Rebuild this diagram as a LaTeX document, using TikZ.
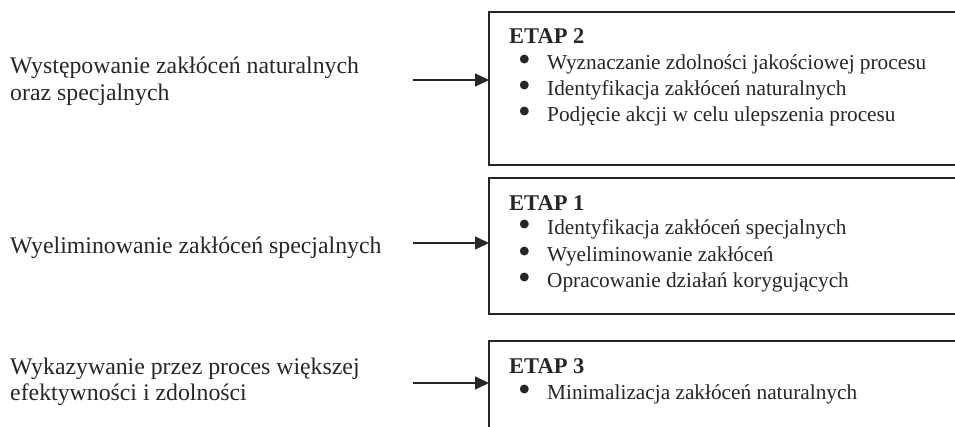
\documentclass[tikz,border=0pt]{standalone}
\usepackage{fontspec}
\setmainfont{Liberation Serif}
\usetikzlibrary{arrows.meta}
\newcommand{\bigdot}{\makebox[28pt][l]{\hspace{-1pt}\raisebox{-0.2ex}{\scalebox{1.7}{\textbullet}}}}
\begin{document}
\begin{tikzpicture}[x=1pt,y=-1pt,
  stagebox/.style={draw=none, rectangle, anchor=north west,
    minimum width=480pt, inner sep=0pt},
  frame/.style={draw=black!85, line width=1.8pt, line join=miter},
  lefttext/.style={anchor=base west, inner sep=0pt,
    font=\fontsize{23.8}{28}\selectfont, text=black!85},
  stagetitle/.style={anchor=base west, inner sep=0pt,
    font=\fontsize{22.5}{24}\selectfont\bfseries, text=black!85},
  stageitem/.style={anchor=base west, inner sep=0pt,
    font=\fontsize{21.3}{24}\selectfont, text=black!85},
  flow/.style={draw=black!85, line width=1.5pt, -{Triangle[length=14pt,width=13pt]}}
]
\useasboundingbox (0,0) rectangle (955,427);
\begin{scope}
\clip (0,0) rectangle (955,427);
% boxes (their right side lies beyond the picture's edge)
\node[stagebox, minimum height=153pt] (boxA) at (489,12) {};
\node[stagebox, minimum height=136pt] (boxB) at (489,178) {};
\node[stagebox, minimum height=110pt] (boxC) at (489,341) {};
\draw[frame] (boxA.north east) -- (boxA.north west) -- (boxA.south west) -- (boxA.south east);
\draw[frame] (boxB.north east) -- (boxB.north west) -- (boxB.south west) -- (boxB.south east);
\draw[frame] (boxC.north east) -- (boxC.north west) -- (boxC.south west);
\end{scope}

% box A
\node[stagetitle] (tA) at (509,44) {ETAP 2};
\node[stageitem] (a1) at (519,70) {\bigdot Wyznaczanie zdolności jakościowej procesu};
\node[stageitem] (a2) at (519,96) {\bigdot Identyfikacja zakłóceń naturalnych};
\node[stageitem] (a3) at (519,121.7) {\bigdot Podjęcie akcji w celu ulepszenia procesu};

% box B
\node[stagetitle] (tB) at (509,210.7) {ETAP 1};
\node[stageitem] (b1) at (519,235) {\bigdot Identyfikacja zakłóceń specjalnych};
\node[stageitem] (b2) at (519,261.5) {\bigdot Wyeliminowanie zakłóceń};
\node[stageitem] (b3) at (519,287.3) {\bigdot Opracowanie działań korygujących};

% box C
\node[stagetitle] (tC) at (509,373.3) {ETAP 3};
\node[stageitem] (c1) at (519,399.3) {\bigdot Minimalizacja zakłóceń naturalnych};

% left texts
\node[lefttext] (L1a) at (10,73.3) {Występowanie zakłóceń naturalnych};
\node[lefttext] (L1b) at (10,101) {oraz specjalnych};
\node[lefttext] (L2) at (10,253.3) {Wyeliminowanie zakłóceń specjalnych};
\node[lefttext] (L3a) at (10,374.3) {Wykazywanie przez proces większej};
\node[lefttext] (L3b) at (10,400.3) {efektywności i zdolności};

% arrows
\coordinate (s1) at (413,80);
\coordinate (s2) at (413,243);
\coordinate (s3) at (413,383);
\draw[flow] (s1) -- (s1 -| boxA.west);
\draw[flow] (s2) -- (s2 -| boxB.west);
\draw[flow] (s3) -- (s3 -| boxC.west);
\end{tikzpicture}
\end{document}
